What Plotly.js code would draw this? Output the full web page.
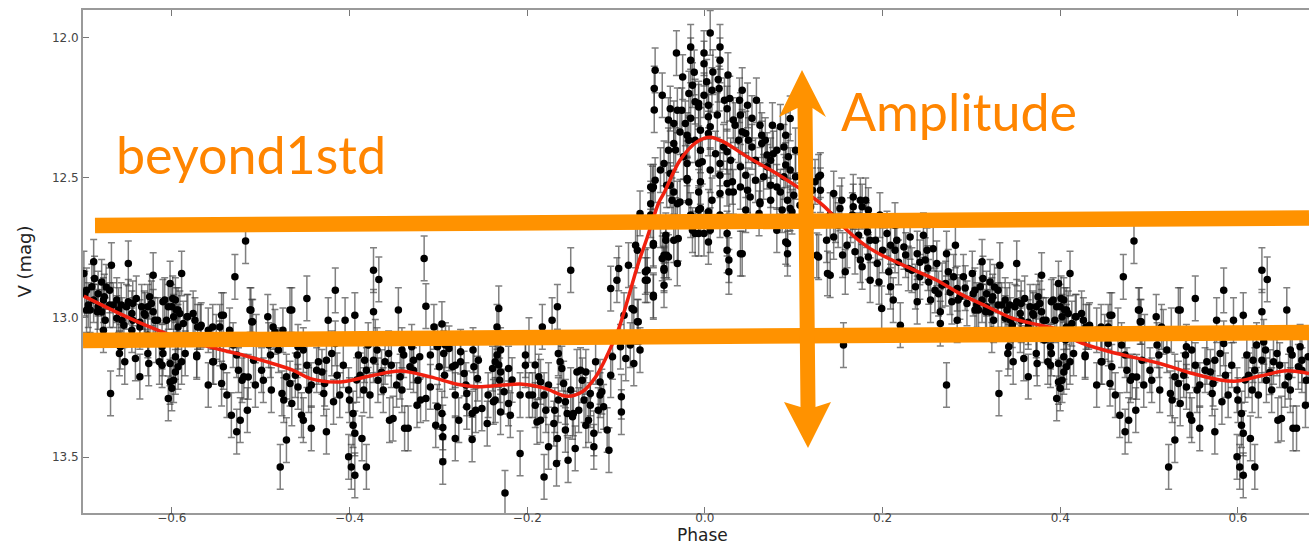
<!DOCTYPE html>
<html><head><meta charset="utf-8">
<script src="https://cdn.plot.ly/plotly-3.0.1.min.js"></script>
<style>html,body{margin:0;padding:0;background:#fff;overflow:hidden}#chart{width:1309px;height:545px}</style>
</head><body><div id="chart"></div>
<script>
const preRise = [
[-0.316,12.789],[-0.314,12.960],[-0.305,13.034],[-0.296,13.024],[-0.301,13.105],[-0.294,13.129],[-0.288,13.111],[-0.299,13.177],[-0.293,13.207],[-0.284,13.177],
[-0.309,13.249],[-0.314,13.290],[-0.320,13.296],[-0.301,13.320],[-0.296,13.344],[-0.303,13.386],[-0.295,13.394],[-0.295,13.427],[-0.295,13.517],[-0.281,13.433],
[-0.277,13.368],[-0.275,13.123],[-0.275,13.159],[-0.271,13.201],[-0.268,13.272],[-0.268,13.320],[-0.262,13.344],[-0.260,13.177],[-0.261,13.117],[-0.262,13.437],
[-0.256,13.219],[-0.251,13.326],[-0.245,13.380],[-0.239,13.183],[-0.238,13.302],[-0.234,13.034],[-0.232,12.968],[-0.236,13.159],[-0.231,13.225]
];
const dipRise = [
[-0.234,13.135],[-0.232,13.170],[-0.230,13.195],[-0.221,13.183],[-0.226,13.266],[-0.230,13.339],[-0.221,13.308],[-0.225,13.628],[-0.208,13.487],[-0.202,13.135],
[-0.198,13.081],[-0.198,13.278],[-0.194,13.278],[-0.189,13.374],[-0.191,13.170],[-0.187,13.212],[-0.183,13.034],[-0.185,13.231],[-0.181,13.278],[-0.181,13.571],
[-0.179,13.332],[-0.176,13.463],[-0.172,13.010],[-0.166,12.962],[-0.169,13.332],[-0.170,13.380],[-0.166,13.433],[-0.167,13.523],[-0.165,13.129],[-0.163,13.159],
[-0.161,13.183],[-0.159,13.237],[-0.157,13.302],[-0.155,13.344],[-0.154,13.511],[-0.151,12.831],[-0.146,13.469],[-0.148,13.344],[-0.149,13.356],[-0.144,13.195],
[-0.140,13.189],[-0.138,13.225],[-0.136,13.296],[-0.134,13.195],[-0.131,13.368],[-0.129,13.272],[-0.125,13.415],[-0.125,13.463],[-0.123,13.159],[-0.120,13.332],
[-0.118,13.231],[-0.116,13.266],[-0.110,13.403],[-0.108,13.475],[-0.106,12.897],[-0.114,13.320],[-0.104,13.141],[-0.099,12.867],[-0.097,12.825],[-0.094,13.284],
[-0.094,13.339],[-0.095,13.105],[-0.091,12.992],[-0.089,13.147],[-0.086,12.813],[-0.084,13.099],[-0.082,12.968],[-0.080,13.165],[-0.078,12.742],[-0.075,13.016],
[-0.073,13.117],[-0.073,12.628],[-0.067,12.837],[-0.065,12.867],[-0.058,12.927],[-0.058,12.736],[-0.061,12.533],[-0.048,12.789],[-0.046,12.825],[-0.044,12.724],
[-0.043,12.778],[-0.041,12.784],[-0.031,12.807],[-0.030,12.718],[-0.037,12.581],[-0.039,12.527],[-0.031,12.593],[-0.020,12.509],[-0.014,12.688],[-0.011,12.700],
[-0.007,12.616],[-0.007,12.551]
];
const dipCore = [
[-0.309,13.135],[-0.292,13.099],[-0.281,13.171],[-0.269,13.242],[-0.255,13.153],[-0.244,13.278],[-0.230,13.117],[-0.217,13.224],[-0.208,13.278],[-0.191,13.314],
[-0.176,13.242],[-0.165,13.296],[-0.151,13.260],[-0.142,13.332],[-0.129,13.314],[-0.118,13.278],[-0.106,13.207],[-0.258,13.332],[-0.219,13.350],[-0.185,13.368],
[-0.157,13.403],[-0.134,13.386],[-0.281,13.278],[-0.236,13.296],[-0.202,13.171]
];
const peak = [
[-0.056,12.116],[-0.057,12.181],[-0.057,12.258],[0.006,11.982],[-0.032,12.054],[-0.016,12.032],[-0.016,12.080],[-0.001,12.054],[0.017,12.032],[0.017,12.080],
[-0.025,12.140],[-0.001,12.092],[0.009,12.122],[0.015,12.149],[0.002,12.157],[-0.014,12.169],[0.016,12.181],[-0.018,12.199],[-0.001,12.205],[-0.007,12.235],
[0.004,12.241],[-0.039,12.253],[-0.026,12.259],[-0.031,12.259],[-0.035,12.306],[-0.022,12.306],[-0.011,12.228],[-0.007,12.247],[0.004,12.282],[0.014,12.276],
[0.025,12.253],[0.028,12.217],[0.039,12.223],[0.040,12.276],[0.032,12.294],[0.048,12.241],[0.006,12.318],[0.004,12.342],[-0.005,12.330],[-0.011,12.366],
[-0.020,12.348],[-0.018,12.366],[-0.035,12.378],[-0.033,12.401],[-0.024,12.425],[-0.020,12.449],[-0.003,12.443],[0.012,12.414],[0.017,12.449],[0.025,12.407],
[0.038,12.366],[0.042,12.336],[0.046,12.342],[0.049,12.366],[0.053,12.390],[0.062,12.312],[0.076,12.312],[0.064,12.348],[0.064,12.378],[0.077,12.414],
[0.081,12.402],[0.070,12.419],[0.085,12.318],[0.096,12.288],[0.091,12.455],[0.089,12.497],[0.070,12.461],[0.057,12.509],[0.040,12.461],[0.031,12.515],
[0.032,12.551],[0.040,12.533],[0.048,12.545],[0.066,12.497],[0.074,12.527],[0.081,12.533],[0.085,12.551],[0.062,12.587],[0.051,12.569],[0.025,12.521],
[0.017,12.491],[0.008,12.581],[0.017,12.557],[-0.005,12.515],[-0.005,12.610],[-0.007,12.449],[-0.020,12.503],[-0.018,12.587],[-0.028,12.587],[-0.035,12.551],
[-0.039,12.485],[-0.046,12.449],[-0.056,12.509],[-0.058,12.533],[0.004,12.622],[0.027,12.551],[0.021,12.390],[0.089,12.390],[0.094,12.425],[0.096,12.473],
[0.102,12.497],[0.100,12.563],[0.096,12.610],[0.128,12.497],[0.124,12.515],[0.130,12.545],[0.128,12.784],[0.138,12.843],[0.093,12.736],[0.093,12.772],
[0.081,12.688],[0.087,12.616],[0.061,12.628],[0.062,12.593],[0.042,12.772],[0.027,12.837],[0.025,12.760],[0.025,12.700],[0.004,12.730],[0.006,12.688],
[-0.007,12.700],[-0.035,12.724],[-0.044,12.706],[-0.046,12.778],[-0.046,12.831],[-0.058,12.742],[-0.058,12.921],[-0.067,12.867],[-0.065,12.831],[-0.080,12.974],
[-0.076,13.016],[-0.046,12.885],[-0.059,12.539],[-0.043,12.527],[-0.061,12.593],[-0.076,12.760],[-0.001,12.700],[0.027,12.795],[0.040,12.772],[0.091,12.730],
[0.126,12.778],[0.119,12.604],[0.113,12.676],[0.098,12.622],[0.093,12.581]
];
const peakCore = [
[0.008,12.187],[0.022,12.223],[0.034,12.312],[0.053,12.287],[0.068,12.366],[-0.016,12.287],[-0.028,12.337],[-0.041,12.402],[-0.050,12.473],[-0.005,12.402],
[0.006,12.473],[0.029,12.438],[0.046,12.491],[0.057,12.438],[0.074,12.438],[0.091,12.348],[0.102,12.402],[0.113,12.455],[0.121,12.545],[0.107,12.599],
[0.074,12.581],[0.046,12.616],[0.017,12.634],[-0.016,12.634],[-0.033,12.652],[-0.050,12.670],[-0.061,12.634],[-0.041,12.294],[-0.048,12.205],[-0.012,12.123],
[0.026,12.133],[0.042,12.187],[0.058,12.223]
];
const decline = [
[0.130,12.491],[0.145,12.557],[0.154,12.581],[0.152,12.610],[0.147,12.652],[0.145,12.712],[0.141,12.849],[0.158,12.837],[0.156,13.099],[0.160,12.742],
[0.167,12.569],[0.167,12.604],[0.177,12.604],[0.181,12.581],[0.184,12.616],[0.166,12.634],[0.169,12.765],[0.175,12.795],[0.177,12.819],[0.183,12.694],
[0.186,12.724],[0.184,12.784],[0.186,12.867],[0.196,12.873],[0.194,12.807],[0.199,12.968],[0.205,12.700],[0.207,12.837],[0.209,12.890],[0.212,12.938],
[0.216,12.724],[0.214,12.760],[0.220,13.028],[0.224,12.748],[0.229,12.825],[0.231,12.712],[0.237,12.890],[0.239,12.944],[0.239,12.772],[0.242,12.855],
[0.246,12.706],[0.250,12.760],[0.248,12.795],[0.252,12.873],[0.254,12.938],[0.257,12.754],[0.261,12.807],[0.263,12.915],[0.265,12.980],[0.265,13.022],
[0.272,12.772],[0.274,12.837],[0.271,12.879],[0.272,13.242],[0.278,12.944],[0.280,12.855],[0.282,12.742],[0.284,12.897],[0.284,13.010],[0.287,12.927],
[0.291,12.855],[0.295,12.950],[0.301,12.843],[0.302,12.915],[0.306,12.956],[0.312,12.801],[0.310,12.890],[0.316,12.980],[0.317,12.915],[0.323,12.938],
[0.325,13.010],[0.331,13.272],[0.332,12.813],[0.334,12.956],[0.340,12.974],[0.342,13.105],[0.344,13.010],[0.347,13.159],[0.351,12.807],[0.351,12.944],
[0.355,12.986],[0.359,13.147],[0.364,13.212],[0.366,12.962],[0.370,12.992],[0.374,13.165],[0.379,12.849],[0.377,12.950],[0.381,13.010],[0.389,13.105],
[0.389,13.171],[0.392,12.938],[0.394,13.010],[0.398,12.879],[0.400,12.962],[0.398,13.231],[0.396,13.290],[0.404,13.141],[0.407,13.034],[0.409,12.986],
[0.400,13.254],[0.404,13.195]
];
const declineCore = [
[0.141,12.634],[0.150,12.670],[0.164,12.652],[0.173,12.706],[0.182,12.670],[0.192,12.724],[0.200,12.760],[0.209,12.742],[0.218,12.803],[0.226,12.777],
[0.233,12.831],[0.242,12.803],[0.251,12.824],[0.259,12.903],[0.267,12.885],[0.276,12.910],[0.285,12.938],[0.293,12.895],[0.304,12.974],[0.312,12.938],
[0.321,12.981],[0.330,12.956],[0.338,13.003],[0.346,13.028],[0.355,13.046],[0.364,13.017],[0.373,13.064],[0.382,13.081],[0.137,12.724],[0.155,12.777],
[0.175,12.581],[0.197,12.634],[0.214,12.670],
[0.313,12.861],[0.321,12.873],[0.326,12.891],[0.330,12.903],[0.324,12.926],[0.317,12.962],[0.308,12.974],[0.304,12.903],[0.338,12.938],[0.343,12.956],
[0.349,12.962],[0.356,12.950],[0.360,12.932],[0.356,13.010],[0.364,13.034],[0.369,12.986],[0.373,12.962],[0.375,12.926],[0.379,12.980],[0.384,13.010],
[0.390,12.944],[0.396,12.962],[0.341,13.129],[0.390,13.129],[0.398,13.165],[0.386,13.159],[0.323,13.046],[0.373,13.129]
];
const tail = [
[0.411,12.843],[0.407,12.974],[0.404,12.938],[0.402,12.998],[0.417,12.998],[0.406,13.081],[0.407,13.177],[0.402,13.225],[0.415,13.129],[0.411,13.159],
[0.426,13.010],[0.428,13.135],[0.432,13.034],[0.441,13.242],[0.447,13.159],[0.456,12.992],[0.454,13.034],[0.454,13.093],[0.458,13.177],[0.456,13.237],
[0.462,13.278],[0.467,13.350],[0.471,12.855],[0.483,12.727],[0.477,13.368],[0.473,13.409],[0.469,13.099],[0.473,13.135],[0.475,13.189],[0.479,13.225],
[0.481,13.212],[0.485,13.332],[0.488,12.974],[0.490,13.016],[0.492,13.153],[0.494,13.242],[0.501,13.189],[0.503,13.225],[0.509,13.099],[0.511,13.135],
[0.512,13.260],[0.516,13.052],[0.520,13.117],[0.524,13.272],[0.526,13.296],[0.529,13.439],[0.522,13.535],[0.529,13.212],[0.535,12.974],[0.533,13.237],
[0.535,13.308],[0.539,13.207],[0.542,13.249],[0.546,13.350],[0.548,13.368],[0.542,13.105],[0.548,13.117],[0.552,12.932],[0.554,13.260],[0.557,13.397],
[0.565,13.159],[0.569,13.195],[0.571,13.272],[0.572,13.237],[0.574,13.409],[0.576,13.010],[0.580,13.129],[0.582,13.302],[0.584,12.903],[0.584,13.093],
[0.595,13.010],[0.599,13.260],[0.600,13.296],[0.604,13.344],[0.606,12.992],[0.604,13.386],[0.599,13.499],[0.602,13.535],[0.606,13.565],[0.606,13.415],
[0.610,13.135],[0.612,13.207],[0.614,13.433],[0.619,13.535],[0.616,13.260],[0.617,13.153],[0.621,13.099],[0.627,12.831],[0.633,12.864],[0.627,12.980],
[0.629,13.088],[0.631,13.117],[0.632,13.225],[0.638,13.260],[0.640,13.159],[0.644,13.129],[0.645,13.368],[0.649,13.362],[0.655,12.974],[0.657,13.212],
[0.659,13.117],[0.659,13.260],[0.662,13.397],[0.666,13.397],[0.668,13.177],[0.670,13.105],[0.672,13.153],[0.676,13.314],[0.677,13.225],[0.679,13.141]
];
const tailCore = [
[0.401,12.932],[0.405,12.974],[0.413,13.022],[0.418,12.998],[0.424,12.986],[0.429,13.034],[0.433,13.028],[0.441,13.046],[0.446,13.034],[0.458,12.992],
[0.450,13.070],[0.465,13.046],[0.489,12.974],[0.491,13.016],[0.495,13.070],[0.508,12.998],[0.514,13.034],[0.525,13.046],[0.533,12.974],[0.428,13.141],
[0.446,13.159],[0.486,13.213],
[0.541,13.135],[0.552,13.171],[0.563,13.189],[0.574,13.153],[0.586,13.207],[0.593,13.171],[0.608,13.224],[0.619,13.189],[0.627,13.153],[0.636,13.196],
[0.647,13.171],[0.661,13.135],[0.672,13.189],[0.557,13.242],[0.589,13.278],[0.623,13.278],[0.653,13.242]
];
const magError = 0.08;

// ---- fitted model curve (red) ----
const modelPhase = [-0.699,-0.663,-0.625,-0.588,-0.551,-0.513,-0.464,-0.444,-0.410,-0.373,-0.343,-0.309,-0.279,-0.256,-0.230,-0.205,-0.180,-0.155,-0.138,-0.123,-0.109,-0.097,-0.086,-0.075,-0.065,-0.052,-0.046,-0.028,-0.009,0.006,0.021,0.048,0.074,0.104,0.133,0.160,0.186,0.223,0.261,0.287,0.318,0.347,0.377,0.400,0.419,0.456,0.512,0.549,0.580,0.599,0.625,0.655,0.680];
const modelMag   = [12.924,12.980,13.034,13.079,13.111,13.141,13.189,13.219,13.231,13.207,13.192,13.213,13.239,13.248,13.243,13.239,13.254,13.282,13.266,13.213,13.129,13.040,12.927,12.807,12.715,12.590,12.555,12.438,12.372,12.355,12.372,12.426,12.473,12.533,12.599,12.688,12.754,12.813,12.867,12.915,12.962,13.004,13.028,13.046,13.085,13.123,13.165,13.201,13.224,13.228,13.210,13.191,13.201];

// ---- axes ----
const period = 1.0;
const xRange = [-0.7, 0.68];
const yRange = [13.7, 11.9];
const xTickVals = [-0.6,-0.4,-0.2,0.0,0.2,0.4,0.6];
const xTickText = ['\u22120.6','\u22120.4','\u22120.2','0.0','0.2','0.4','0.6'];
const yTickVals = [12.0,12.5,13.0,13.5];
const yTickText = ['12.0','12.5','13.0','13.5'];
const xTitle = 'Phase';
const yTitle = 'V (mag)';

// ---- build folded series ----
const allPts = preRise.concat(dipRise, dipCore, peak, peakCore, decline, declineCore, tail, tailCore);
const ph = [], mg = [];
allPts.forEach(([p, m]) => {
  ph.push(p); mg.push(m);
  if (p - period >= xRange[0] - 0.02) { ph.push(p - period); mg.push(m); }
});

// ---- layout geometry ----
const W = 1309, H = 545, ML = 83, MR = 0, MT = 10, MB = 32;
const plotW = W - ML - MR, plotH = H - MT - MB;
const dx = px => xRange[0] + (px - ML) / plotW * (xRange[1] - xRange[0]);
const dy = py => yRange[1] + (py - MT) / plotH * (yRange[0] - yRange[1]);
const paperY = py => (H - MB - py) / plotH;

const ORANGE = '#ff9200', ORANGE_TXT = '#ff8500';
const arrowPx = [[802,70],[826,117],[812.5,108],[815.5,407],[831,402],[808,448],[784,402],[800.5,407],[797.5,108],[779,117]];
const arrowPath = 'M' + arrowPx.map(([a,b]) => dx(a).toFixed(5) + ',' + dy(b).toFixed(5)).join(' L') + ' Z';

const traces = [
  {
    x: ph, y: mg, type: 'scatter', mode: 'markers',
    marker: {color: '#000', size: 7.5},
    error_y: {type: 'constant', value: magError, color: 'rgba(60,60,60,0.65)', thickness: 1.5, width: 3.5},
    hoverinfo: 'skip', showlegend: false
  },
  {
    x: modelPhase, y: modelMag, type: 'scatter', mode: 'lines',
    line: {color: '#f0200f', width: 3.5, shape: 'spline', smoothing: 1},
    hoverinfo: 'skip', showlegend: false
  }
];

const layout = {
  width: W, height: H,
  margin: {l: ML, r: MR, t: MT, b: MB, pad: 0},
  paper_bgcolor: '#fff', plot_bgcolor: '#fff',
  showlegend: false,
  xaxis: {
    range: xRange, tickvals: xTickVals, ticktext: xTickText,
    ticks: 'inside', ticklen: 6, tickwidth: 1, tickcolor: '#777',
    ticklabelstandoff: -7,
    showline: true, linecolor: '#9a9a9a', linewidth: 2, mirror: 'ticks',
    showgrid: false, zeroline: false, automargin: false,
    tickfont: {family: 'DejaVu Sans', size: 12, color: '#444'},
    title: {text: ''}
  },
  yaxis: {
    range: yRange, tickvals: yTickVals, ticktext: yTickText,
    ticks: 'inside', ticklen: 6, tickwidth: 1, tickcolor: '#777',
    showline: true, linecolor: '#9a9a9a', linewidth: 2, mirror: false,
    showgrid: false, zeroline: false, automargin: false,
    tickfont: {family: 'DejaVu Sans', size: 12, color: '#444'},
    title: {text: yTitle, font: {family: 'DejaVu Sans', size: 18, color: '#222'}, standoff: 16}
  },
  shapes: [
    {type: 'line', xref: 'x', yref: 'y', x0: dx(95), y0: dy(225.5), x1: dx(1309), y1: dy(218), line: {color: ORANGE, width: 15.5}, layer: 'above'},
    {type: 'line', xref: 'x', yref: 'y', x0: dx(83), y0: dy(340.5), x1: dx(1309), y1: dy(332.5), line: {color: ORANGE, width: 15.5}, layer: 'above'},
    {type: 'path', xref: 'x', yref: 'y', path: arrowPath, fillcolor: ORANGE, line: {width: 0}, layer: 'above'}
  ],
  annotations: [
    {text: xTitle, xref: 'x', yref: 'paper', x: dx(702), y: paperY(535), xanchor: 'center', yanchor: 'middle', showarrow: false,
     font: {family: 'DejaVu Sans', size: 17, color: '#222'}},
    {text: 'beyond1std', xref: 'x', yref: 'y', x: dx(114), y: dy(154), xanchor: 'left', yanchor: 'middle', showarrow: false,
     font: {family: 'Lato', size: 52, color: ORANGE_TXT}},
    {text: 'Amplitude', xref: 'x', yref: 'y', x: dx(839), y: dy(111), xanchor: 'left', yanchor: 'middle', showarrow: false,
     font: {family: 'Lato', size: 52, color: ORANGE_TXT}}
  ]
};

Plotly.newPlot('chart', traces, layout, {displayModeBar: false, staticPlot: true});
</script>
</body></html>
